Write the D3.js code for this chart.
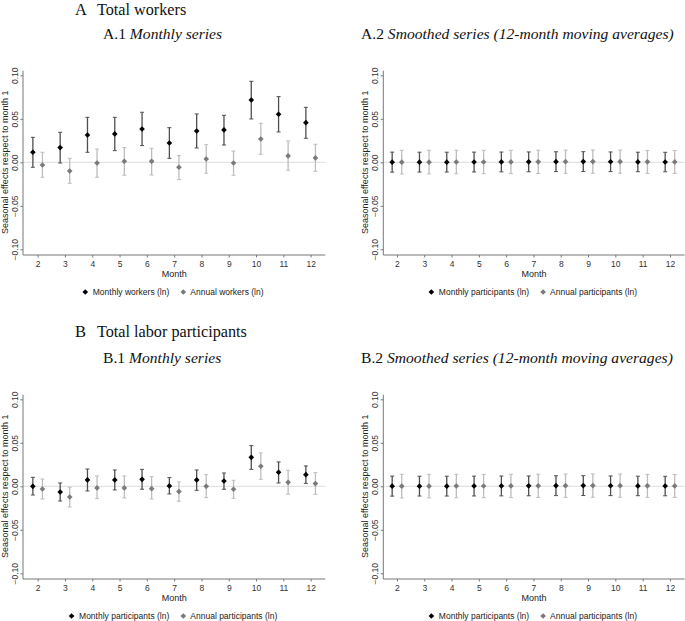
<!DOCTYPE html>
<html><head><meta charset="utf-8">
<script src="https://cdn.jsdelivr.net/npm/d3@7"></script>
<style>body{margin:0;background:#fff}svg{display:block}</style>
</head><body><svg id="c" width="685" height="621"></svg>
<script>
// ---------- data ----------
const months = [2,3,4,5,6,7,8,9,10,11,12];
const yTickValues = [-0.10,-0.05,0.00,0.05,0.10];

// A.1 Total workers, monthly series
const a1MonthlyEst = [0.0115,0.0169,0.0314,0.0326,0.0383,0.0222,0.0360,0.0372,0.0716,0.0552,0.0456];
const a1MonthlyLo  = [-0.0057,-0.0008,0.0115,0.0134,0.0192,0.0046,0.0165,0.0199,0.0498,0.0349,0.0276];
const a1MonthlyHi  = [0.0287,0.0345,0.0517,0.0517,0.0575,0.0398,0.0556,0.0540,0.0931,0.0755,0.0632];
const a1AnnualEst  = [-0.0031,-0.0100,-0.0008,0.0011,0.0011,-0.0057,0.0038,-0.0008,0.0268,0.0073,0.0050];
const a1AnnualLo   = [-0.0172,-0.0241,-0.0172,-0.0149,-0.0146,-0.0199,-0.0126,-0.0149,0.0092,-0.0092,-0.0103];
const a1AnnualHi   = [0.0115,0.0046,0.0153,0.0169,0.0161,0.0077,0.0203,0.0130,0.0448,0.0245,0.0207];

// A.2 Total workers, smoothed series
const a2MonthlyEst = [0.0002,0.0002,0.0002,0.0003,0.0004,0.0005,0.0007,0.0008,0.0006,0.0004,0.0003];
const a2MonthlyLo  = [-0.0113,-0.0112,-0.0112,-0.0111,-0.0110,-0.0109,-0.0107,-0.0106,-0.0107,-0.0108,-0.0109];
const a2MonthlyHi  = [0.0117,0.0116,0.0116,0.0117,0.0118,0.0119,0.0121,0.0122,0.0119,0.0116,0.0115];
const a2AnnualEst  = [0.0002,0.0002,0.0003,0.0003,0.0004,0.0005,0.0007,0.0008,0.0007,0.0005,0.0004];
const a2AnnualLo   = [-0.0134,-0.0133,-0.0132,-0.0131,-0.0130,-0.0129,-0.0127,-0.0126,-0.0126,-0.0127,-0.0128];
const a2AnnualHi   = [0.0138,0.0137,0.0138,0.0137,0.0138,0.0139,0.0141,0.0142,0.0140,0.0137,0.0136];

// B.1 Total labor participants, monthly series
const b1MonthlyEst = [0.0000,-0.0065,0.0073,0.0073,0.0080,0.0004,0.0073,0.0061,0.0333,0.0161,0.0134];
const b1MonthlyLo  = [-0.0100,-0.0169,-0.0054,-0.0042,-0.0034,-0.0088,-0.0046,-0.0034,0.0195,0.0038,0.0034];
const b1MonthlyHi  = [0.0103,0.0038,0.0199,0.0188,0.0195,0.0100,0.0188,0.0153,0.0467,0.0280,0.0234];
const b1AnnualEst  = [-0.0031,-0.0123,-0.0019,-0.0019,-0.0027,-0.0061,0.0000,-0.0034,0.0230,0.0046,0.0031];
const b1AnnualLo   = [-0.0146,-0.0238,-0.0142,-0.0134,-0.0146,-0.0172,-0.0130,-0.0138,0.0080,-0.0092,-0.0092];
const b1AnnualHi   = [0.0084,-0.0011,0.0119,0.0119,0.0111,0.0050,0.0134,0.0069,0.0383,0.0184,0.0157];

// B.2 Total labor participants, smoothed series
const b2MonthlyEst = [0.0002,0.0002,0.0002,0.0003,0.0004,0.0005,0.0007,0.0008,0.0006,0.0004,0.0003];
const b2MonthlyLo  = [-0.0113,-0.0112,-0.0112,-0.0111,-0.0110,-0.0109,-0.0107,-0.0106,-0.0107,-0.0108,-0.0109];
const b2MonthlyHi  = [0.0117,0.0116,0.0116,0.0117,0.0118,0.0119,0.0121,0.0122,0.0119,0.0116,0.0115];
const b2AnnualEst  = [0.0002,0.0002,0.0003,0.0003,0.0004,0.0005,0.0007,0.0008,0.0007,0.0005,0.0004];
const b2AnnualLo   = [-0.0134,-0.0133,-0.0132,-0.0131,-0.0130,-0.0129,-0.0127,-0.0126,-0.0126,-0.0127,-0.0128];
const b2AnnualHi   = [0.0138,0.0137,0.0138,0.0137,0.0138,0.0139,0.0141,0.0142,0.0140,0.0137,0.0136];

const sectionTitles = [["A","Total workers"],["B","Total labor participants"]];
const panelLabels = [["A.1","Monthly series"],["A.2","Smoothed series (12-month moving averages)"],
                     ["B.1","Monthly series"],["B.2","Smoothed series (12-month moving averages)"]];
const legendLabels = [
  ["Monthly workers (ln)","Annual workers (ln)"],
  ["Monthly participants (ln)","Annual participants (ln)"],
  ["Monthly participants (ln)","Annual participants (ln)"],
  ["Monthly participants (ln)","Annual participants (ln)"]];
const xTitle = "Month";
const yTitle = "Seasonal effects respect to month 1";

// ---------- drawing ----------
const svg = d3.select("#c");
const SANS = "'Liberation Sans', Arial, sans-serif";
const SERIF = "'Liberation Serif', 'Times New Roman', serif";
const ROW = 324;

const panels = [
  {col:0,row:0,m:[a1MonthlyEst,a1MonthlyLo,a1MonthlyHi],a:[a1AnnualEst,a1AnnualLo,a1AnnualHi]},
  {col:1,row:0,m:[a2MonthlyEst,a2MonthlyLo,a2MonthlyHi],a:[a2AnnualEst,a2AnnualLo,a2AnnualHi]},
  {col:0,row:1,m:[b1MonthlyEst,b1MonthlyLo,b1MonthlyHi],a:[b1AnnualEst,b1AnnualLo,b1AnnualHi]},
  {col:1,row:1,m:[b2MonthlyEst,b2MonthlyLo,b2MonthlyHi],a:[b2AnnualEst,b2AnnualLo,b2AnnualHi]}
];

// section titles
sectionTitles.forEach((t,i)=>{
  const g = svg.append("text").attr("y",(i===0?15:13)+i*ROW).attr("font-family",SERIF).attr("fill","#111");
  g.append("tspan").attr("x",75).attr("font-size",16.5).text(t[0]);
  g.append("tspan").attr("x",97).attr("font-size",16.2).text(t[1]);
});

const diamond = d3.symbol().type(d3.symbolSquare).size(16);
const COLS = {
  m:{pt:"#000",bar:"#4f4f4f"},
  a:{pt:"#7a7a7a",bar:"#bdbdbd"}
};

panels.forEach((p,pi)=>{
  const x0 = p.col===0 ? 24.0 : 383.3;
  const oy = p.row*ROW;
  const x = d3.scaleLinear().domain([1.5,12.5]).range([x0, x0+300.3]);
  const y = d3.scaleLinear().domain([-0.1,0.1]).range([249.3+oy, 75.3+oy]);
  const g = svg.append("g");
  const axisX = x0 - (p.col===0?1:0);
  const axisY = y(-0.1)+5.7;
  const plotRight = x(12.5)+1;

  // subtitle
  const st = svg.append("text").attr("x", p.col===0?103:361).attr("y",38.5+oy)
     .attr("font-family",SERIF).attr("font-size",15.6).attr("fill","#111");
  st.append("tspan").text(panelLabels[pi][0]+" ");
  st.append("tspan").attr("font-style","italic").text(panelLabels[pi][1]);

  // zero reference line
  g.append("line").attr("x1",axisX).attr("x2",plotRight).attr("y1",y(0)).attr("y2",y(0))
    .attr("stroke","#dcdcdc").attr("stroke-width",1);

  // y axis
  const ya = g.append("g").attr("transform",`translate(${axisX},0)`)
    .call(d3.axisLeft(y).tickValues(yTickValues).tickFormat(d3.format(".2f")).tickSize(2.6).tickSizeOuter(0));
  ya.select(".domain").remove();
  ya.selectAll(".tick line").attr("stroke","#777");
  ya.selectAll(".tick text").attr("font-family",SANS).attr("font-size",8.5).attr("fill","#333")
    .attr("text-anchor","middle").attr("dy",0).attr("x",0)
    .attr("transform","translate(-5.5,0) rotate(-90)");
  g.append("line").attr("x1",axisX).attr("x2",axisX).attr("y1",y(0.1)-4.6).attr("y2",axisY)
    .attr("stroke","#777").attr("stroke-width",1);

  // x axis
  const xa = g.append("g").attr("transform",`translate(0,${axisY})`)
    .call(d3.axisBottom(x).tickValues(months).tickFormat(d3.format("d")).tickSize(2.5).tickSizeOuter(0));
  xa.select(".domain").remove();
  xa.selectAll(".tick line").attr("stroke","#777");
  xa.selectAll(".tick text").attr("font-family",SANS).attr("font-size",8.5).attr("fill","#333")
    .attr("dy",0).attr("y",12.3);
  g.append("line").attr("x1",axisX).attr("x2",plotRight).attr("y1",axisY).attr("y2",axisY)
    .attr("stroke","#777").attr("stroke-width",1);

  // axis titles
  g.append("text").attr("x",(axisX+plotRight)/2).attr("y",axisY+22.3).attr("text-anchor","middle")
    .attr("font-family",SANS).attr("font-size",9).attr("fill","#222").text(xTitle);
  g.append("text").attr("transform",`translate(${axisX-15},${y(0)}) rotate(-90)`).attr("text-anchor","middle")
    .attr("font-family",SANS).attr("font-size",9).attr("fill","#222").text(yTitle);

  // series
  [["m",-0.175],["a",0.175]].forEach(([key,off])=>{
    const [est,lo,hi] = p[key];
    const c = COLS[key];
    const data = months.map((mo,i)=>({mo,est:est[i],lo:lo[i],hi:hi[i]}));
    const sg = g.append("g");
    sg.selectAll("line.v").data(data).join("line").attr("class","v")
      .attr("x1",d=>x(d.mo+off)).attr("x2",d=>x(d.mo+off))
      .attr("y1",d=>y(d.lo)).attr("y2",d=>y(d.hi)).attr("stroke",c.bar).attr("stroke-width",1.3);
    ["lo","hi"].forEach(k=>{
      sg.selectAll("line."+k).data(data).join("line").attr("class",k)
        .attr("x1",d=>x(d.mo+off)-2).attr("x2",d=>x(d.mo+off)+2)
        .attr("y1",d=>y(d[k])).attr("y2",d=>y(d[k])).attr("stroke",c.bar).attr("stroke-width",1);
    });
    sg.selectAll("path").data(data).join("path")
      .attr("d",diamond).attr("fill",c.pt)
      .attr("transform",d=>`translate(${x(d.mo+off)},${y(d.est)}) rotate(45)`);
  });

  // legend
  const lg = g.append("g").attr("font-family",SANS).attr("font-size",8.5).attr("fill","#222");
  const t1 = lg.append("text").attr("y",axisY+40).text(legendLabels[pi][0]);
  const t2 = lg.append("text").attr("y",axisY+40).text(legendLabels[pi][1]);
  const w1 = t1.node().getComputedTextLength(), w2 = t2.node().getComputedTextLength();
  const total = 5 + 2.5 + w1 + 14 + 5 + 2.5 + w2;
  const start = (axisX+plotRight)/2 - 2 - total/2;
  const m1 = start+2.5, m2 = start + 5 + 2.5 + w1 + 14 + 2.5;
  lg.append("path").attr("d",diamond).attr("fill",COLS.m.pt).attr("transform",`translate(${m1},${axisY+37}) rotate(45)`);
  lg.append("path").attr("d",diamond).attr("fill",COLS.a.pt).attr("transform",`translate(${m2},${axisY+37}) rotate(45)`);
  t1.attr("x",m1+7.5);
  t2.attr("x",m2+7);
});
</script></body></html>
